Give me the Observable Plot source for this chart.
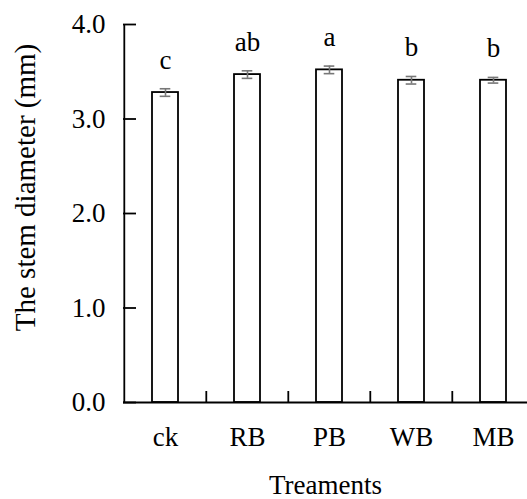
<!DOCTYPE html>
<html><head><meta charset="utf-8">
<script src="https://cdn.jsdelivr.net/npm/d3@7"></script>
<script src="https://cdn.jsdelivr.net/npm/@observablehq/plot@0.6"></script>
<style>
html,body{margin:0;padding:0;background:#fff}
</style>
</head><body><div id="chart"></div>
<script>
const treatments = ["ck", "RB", "PB", "WB", "MB"];
const stemDiameter = [3.28, 3.47, 3.52, 3.41, 3.41];
const stdError = [0.04, 0.04, 0.04, 0.04, 0.03];
const letters = ["c", "ab", "a", "b", "b"];
const yTicks = [0, 1, 2, 3, 4];
const xTitle = "Treaments";
const yTitle = "The stem diameter (mm)";

const data = treatments.map((t, i) => ({t, v: stemDiameter[i], e: stdError[i], g: letters[i]}));

const W = 527, H = 499, mL = 123, mT = 24, mB = 97, xEnd = 535;
const step = (xEnd - mL) / treatments.length;
const font = "'Liberation Serif','Times New Roman',serif";

const chart = Plot.plot({
  width: W, height: H,
  marginLeft: mL, marginRight: 0, marginTop: mT, marginBottom: mB,
  style: {fontFamily: font, fontSize: "27px", color: "black", background: "white"},
  x: {type: "band", domain: treatments, range: [mL, xEnd], padding: 0},
  y: {domain: [0, 4]},
  marks: [
    Plot.barY(data, {x: "t", y: "v", fill: "white", stroke: "black", strokeWidth: 1.8, insetLeft: 28, insetRight: 28}),
    Plot.ruleX(data, {x: "t", y1: d => d.v - d.e, y2: d => d.v + d.e, stroke: "#777", strokeWidth: 1.6}),
    Plot.tickY(data, {x: "t", y: d => d.v - d.e, stroke: "#777", strokeWidth: 1.6, insetLeft: 35.7, insetRight: 35.7}),
    Plot.tickY(data, {x: "t", y: d => d.v + d.e, stroke: "#777", strokeWidth: 1.6, insetLeft: 35.7, insetRight: 35.7}),
    Plot.text(data, {x: "t", y: d => d.v + d.e, text: "g", lineAnchor: "bottom", dy: -20, fill: "black"}),
    // axis lines
    Plot.ruleY([0], {stroke: "black", strokeWidth: 1.8}),
    Plot.ruleX([treatments[0]], {dx: -step / 2, stroke: "black", strokeWidth: 1.8}),
    // y ticks pointing inward
    Plot.axisY({ticks: yTicks, tickSize: 13, dx: 13, fill: "none", label: null, strokeWidth: 1.8}),
    Plot.axisY({ticks: yTicks, tickSize: 0, tickPadding: 18, tickFormat: d3.format(".1f"), label: null, fill: "black"}),
    // x boundary ticks pointing upward
    Plot.axisX({ticks: treatments.slice(1), tickSize: 11, dx: -step / 2, dy: -11, fill: "none", label: null, strokeWidth: 1.8}),
    Plot.axisX({tickSize: 0, tickPadding: 24, label: null, fill: "black"}),
    // titles
    Plot.text([xTitle], {frameAnchor: "bottom", dy: 91, lineAnchor: "bottom", textAnchor: "middle", text: d => d, fill: "black"}),
    Plot.text([yTitle], {frameAnchor: "left", rotate: -90, dx: -98, dy: -26, lineAnchor: "middle", textAnchor: "middle", text: d => d, fontSize: 29, fill: "black"})
  ]
});
document.getElementById("chart").appendChild(chart);
</script>
</body></html>
